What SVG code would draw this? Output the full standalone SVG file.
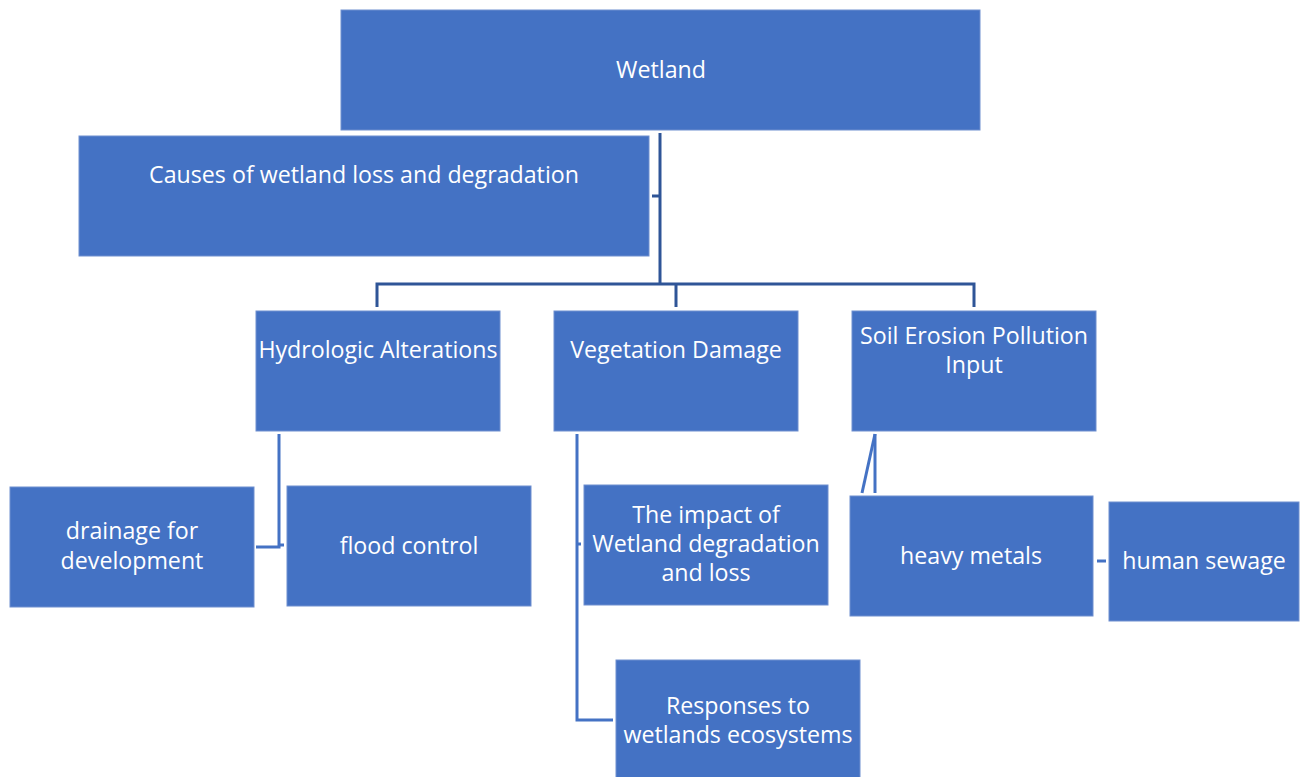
<svg xmlns="http://www.w3.org/2000/svg" width="1303" height="777" viewBox="0 0 1303 777">
<style>
.box{fill:#4472C4;stroke:#6F8FCF;stroke-width:1}
.t{font-family:"Open Sans","Liberation Sans",sans-serif;font-size:23.2px;fill:#FFFFFF;text-anchor:middle}
.c{fill:none;stroke:#2F5597;stroke-width:3}
.c2{fill:none;stroke:#4472C4;stroke-width:3}
</style>
<rect width="1303" height="777" fill="#FFFFFF"/>
<g id="connectors">
<polyline class="c" points="660,133 660,284"/>
<polyline class="c" points="652,196 660,196"/>
<polyline class="c" points="377,307 377,284 974,284 974,307"/>
<polyline class="c" points="676,284 676,307"/>
<polyline class="c2" points="279,434 279,547 256,547"/>
<polyline class="c2" points="279,545 284,545"/>
<polyline class="c2" points="577,434 577,720 613,720"/>
<polyline class="c2" points="577,544 581,544"/>
<polyline class="c2" points="875,434 862,493"/>
<polyline class="c2" points="875,434 875,493"/>
<polyline class="c2" points="1097,561 1106,561"/>
</g>
<g id="n-wetland"><rect class="box" x="341" y="10" width="639" height="120"/><text class="t" x="661" y="78">Wetland</text></g>
<g id="n-causes"><rect class="box" x="79" y="136" width="570" height="120"/><text class="t" x="364" y="183">Causes of wetland loss and degradation</text></g>
<g id="n-hydro"><rect class="box" x="256" y="311" width="244" height="120"/><text class="t" x="378" y="358">Hydrologic Alterations</text></g>
<g id="n-veg"><rect class="box" x="554" y="311" width="244" height="120"/><text class="t" x="676" y="358">Vegetation Damage</text></g>
<g id="n-soil"><rect class="box" x="852" y="311" width="244" height="120"/><text class="t" x="974" y="344">Soil Erosion Pollution</text><text class="t" x="974" y="373">Input</text></g>
<g id="n-drainage"><rect class="box" x="10" y="487" width="244" height="120"/><text class="t" x="132" y="539">drainage for</text><text class="t" x="132" y="569">development</text></g>
<g id="n-flood"><rect class="box" x="287" y="486" width="244" height="120"/><text class="t" x="409" y="554">flood control</text></g>
<g id="n-impact"><rect class="box" x="584" y="485" width="244" height="120"/><text class="t" x="706" y="523">The impact of</text><text class="t" x="706" y="552">Wetland degradation</text><text class="t" x="706" y="581">and loss</text></g>
<g id="n-responses"><rect class="box" x="616" y="660" width="244" height="120"/><text class="t" x="738" y="714">Responses to</text><text class="t" x="738" y="743">wetlands ecosystems</text></g>
<g id="n-heavy"><rect class="box" x="850" y="496" width="243" height="120"/><text class="t" x="971" y="564">heavy metals</text></g>
<g id="n-sewage"><rect class="box" x="1109" y="502" width="190" height="119"/><text class="t" x="1204" y="569">human sewage</text></g>
</svg>
